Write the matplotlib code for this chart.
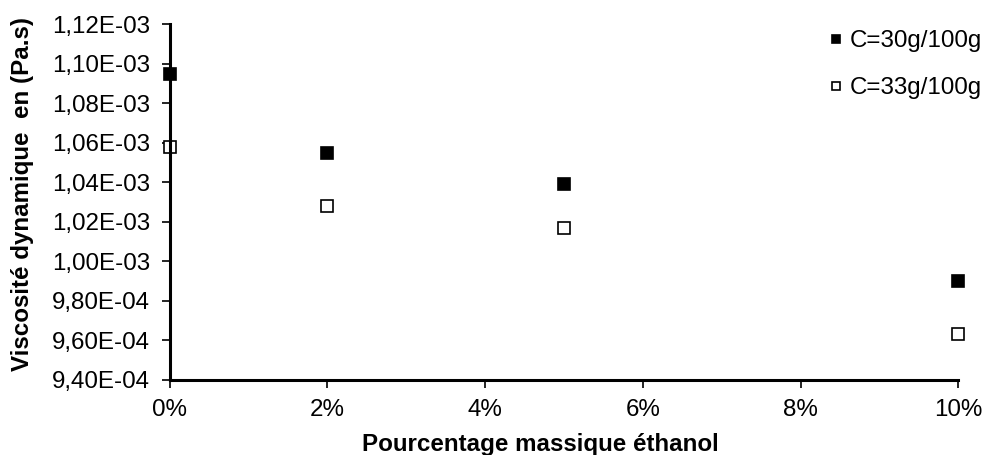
import numpy as np
import matplotlib.pyplot as plt
from matplotlib.ticker import FuncFormatter, PercentFormatter

plt.rcParams['font.family'] = ['Liberation Sans', 'DejaVu Sans']

ethanol = [0.0, 0.02, 0.05, 0.10]
visc_30 = [1.095e-3, 1.055e-3, 1.039e-3, 9.90e-4]
visc_33 = [1.058e-3, 1.028e-3, 1.017e-3, 9.63e-4]
labels = ['C=30g/100g', 'C=33g/100g']

fs = 17.4

fig = plt.figure(figsize=(9.93, 4.55), dpi=100)
ax = fig.add_axes([0.171, 0.165, 0.794, 0.782])

ax.plot(ethanol, visc_30, 's', ms=8.5, mfc='black', mec='black', mew=1.2, label=labels[0], clip_on=False)
ax.plot(ethanol, visc_33, 's', ms=8.5, mfc='white', mec='black', mew=1.2, label=labels[1], clip_on=False)

ax.set_xlim(0, 0.10)
ax.set_ylim(9.4e-4, 1.12e-3)
ax.set_xticks(np.arange(0, 0.101, 0.02))
ax.set_yticks(np.arange(9.4e-4, 1.1201e-3, 2e-5))
ax.xaxis.set_major_formatter(PercentFormatter(xmax=1, decimals=0))
ax.yaxis.set_major_formatter(FuncFormatter(lambda v, p: f"{v:.2E}".replace('.', ',')))

for s in ['top', 'right']:
    ax.spines[s].set_visible(False)
for s in ['left', 'bottom']:
    ax.spines[s].set_linewidth(2.2)
ax.tick_params(direction='out', length=6, width=1.2, labelsize=fs, pad=8)

ax.set_xlabel('Pourcentage massique éthanol', fontsize=fs, fontweight='bold')
ax.set_ylabel('Viscosité dynamique  en (Pa.s)', fontsize=fs, fontweight='bold')
ax.xaxis.set_label_coords(0.47, -0.15)
ax.yaxis.set_label_coords(-0.172, 0.522)

ax.legend(loc='upper left', bbox_to_anchor=(0.835, 0.934), bbox_transform=fig.transFigure,
          frameon=False, fontsize=fs, markerscale=0.75, handlelength=0.6,
          handletextpad=0.25, labelspacing=1.04, borderpad=0, borderaxespad=0)

fig.savefig('out.png', dpi=100)
